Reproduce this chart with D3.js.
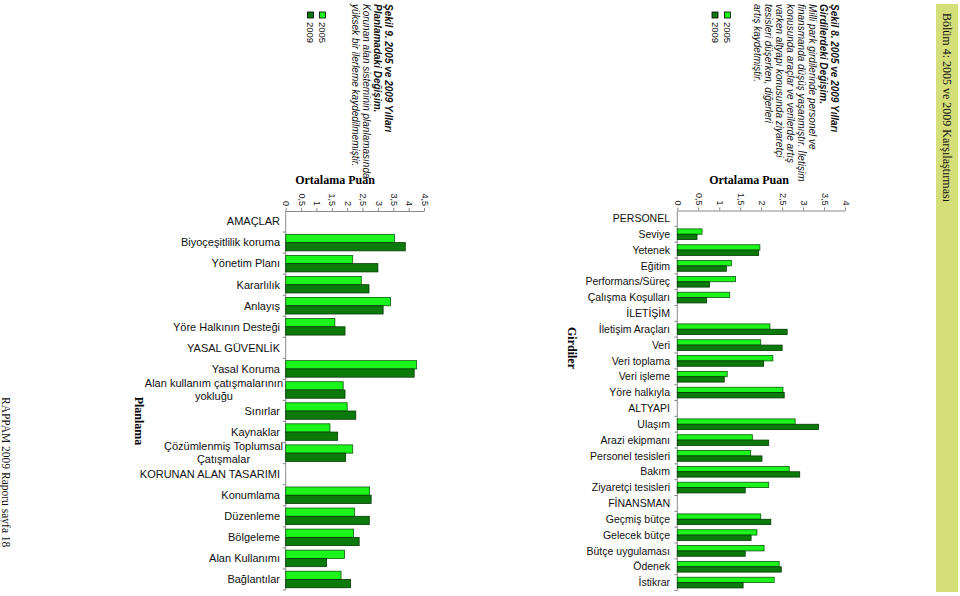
<!DOCTYPE html>
<html><head><meta charset="utf-8">
<script src="https://cdn.jsdelivr.net/npm/d3@7"></script>
<style>body{margin:0;background:#fff}svg{display:block}</style>
</head><body><svg id="c" width="960" height="596"></svg>
<script>
// ---------- DATA ----------
const cats1 = ["PERSONEL","Seviye","Yetenek","Eğitim","Performans/Süreç","Çalışma Koşulları","İLETİŞİM","İletişim Araçları","Veri","Veri toplama","Veri işleme","Yöre halkıyla","ALTYAPI","Ulaşım","Arazi ekipmanı","Personel tesisleri","Bakım","Ziyaretçi tesisleri","FİNANSMAN","Geçmiş bütçe","Gelecek bütçe","Bütçe uygulaması","Ödenek","İstikrar"];
const v2005a = [null,0.59,1.97,1.29,1.39,1.25,null,2.21,1.99,2.28,1.19,2.52,null,2.81,1.79,1.75,2.67,2.18,null,1.99,1.90,2.07,2.43,2.31];
const v2009a = [null,0.47,1.94,1.17,0.77,0.70,null,2.62,2.50,2.06,1.12,2.55,null,3.37,2.18,2.02,2.92,1.62,null,2.23,1.76,1.62,2.48,1.57];
const ticks1 = [0,0.5,1,1.5,2,2.5,3,3.5,4];

const cats2 = ["AMAÇLAR","Biyoçeşitlilik koruma","Yönetim Planı","Kararlılık","Anlayış","Yöre Halkının Desteği","YASAL GÜVENLİK","Yasal Koruma","Alan kullanım çatışmalarının|yokluğu","Sınırlar","Kaynaklar","Çözümlenmiş Toplumsal|Çatışmalar","KORUNAN ALAN TASARIMI","Konumlama","Düzenleme","Bölgeleme","Alan Kullanımı","Bağlantılar"];
const v2005b = [null,3.54,2.18,2.46,3.41,1.60,null,4.26,1.87,2.00,1.44,2.18,null,2.73,2.24,2.21,1.91,1.80];
const v2009b = [null,3.89,3.00,2.71,3.17,1.93,null,4.18,1.93,2.28,1.69,1.95,null,2.78,2.72,2.39,1.33,2.11];
const ticks2 = [0,0.5,1,1.5,2,2.5,3,3.5,4,4.5];

const seriesNames = ["2005","2009"];
const text1 = ["Şekil 8. 2005 ve 2009 Yılları","Girdilerdeki Değişim.","Milli park girdilerinde personel ve","finansmanda düşüş yaşanmıştır. İletişim","konusunda araçlar ve verilerde artış","varken altyapı konusunda ziyaretçi","tesisleri düşerken, diğerleri","artış kaydetmiştir."];
const text2 = ["Şekil 9. 2005 ve 2009 Yılları","Planlamadaki Değişim.","Korunan alan sisteminin planlamasında","yüksek bir ilerleme kaydedilmemiştir."];
const axisTitle = "Ortalama Puan";
const groupTitle1 = "Girdiler";
const groupTitle2 = "Planlama";
const headerText = "Bölüm 4: 2005 ve 2009 Karşılaştırması";
const footerText = "RAPPAM 2009 Raporu sayfa 18";

// ---------- STYLE ----------
const fill = {"2005":"#1cf51c","2009":"#0b7a0b"};
const stroke = {"2005":"#0a5a0a","2009":"#033a03"};
const sans = "'Liberation Sans', Arial, sans-serif";
const serif = "'Liberation Serif', 'Times New Roman', serif";
const svg = d3.select("#c");
const fmt = d => String(d).replace(".", ",");

function drawChart(o) {
  const g = svg.append("g");
  const x = d3.scaleLinear().domain(o.domain).range(o.xr);
  const y = d3.scaleBand().domain(o.cats).range(o.yr).padding(0);
  const y1 = d3.scaleBand().domain(seriesNames).range([0, y.bandwidth()]).paddingInner(0).paddingOuter(o.po);

  // top value axis
  const ax = g.append("g").attr("transform", `translate(0,${o.yr[0]})`)
    .call(d3.axisTop(x).tickValues(o.ticks).tickSize(3).tickSizeOuter(0).tickFormat(fmt));
  ax.select(".domain").attr("stroke", "#8a8a8a");
  ax.selectAll(".tick line").attr("stroke", "#8a8a8a");
  ax.selectAll(".tick text")
    .attr("x", 0).attr("y", 0).attr("dy", "0.32em")
    .attr("text-anchor", "end")
    .attr("transform", "translate(0,-5) rotate(90)")
    .attr("font-family", sans).attr("font-size", 9).attr("fill", "#222");

  // category axis (left)
  const bounds = o.cats.map((c, i) => y(c)).concat([o.yr[1]]);
  g.append("line").attr("x1", o.xr[0]).attr("x2", o.xr[0]).attr("y1", o.yr[0]).attr("y2", o.yr[1])
    .attr("stroke", "#8a8a8a");
  g.selectAll(".ctick").data(bounds.slice(1)).join("line")
    .attr("x1", o.xr[0] - 3).attr("x2", o.xr[0]).attr("y1", d => d).attr("y2", d => d)
    .attr("stroke", "#8a8a8a");

  // bars
  const rows = [];
  o.cats.forEach((c, i) => {
    if (o.a[i] != null) rows.push({c, s: "2005", v: o.a[i]});
    if (o.b[i] != null) rows.push({c, s: "2009", v: o.b[i]});
  });
  g.selectAll(".bar").data(rows).join("rect")
    .attr("x", x(0)).attr("y", d => y(d.c) + y1(d.s))
    .attr("width", d => x(d.v) - x(0)).attr("height", y1.bandwidth())
    .attr("fill", d => fill[d.s]).attr("stroke", d => stroke[d.s]).attr("stroke-width", 0.8);

  // category labels
  o.cats.forEach(c => {
    const lines = c.split("|");
    const cy = y(c) + y.bandwidth() / 2;
    if (lines.length === 1) {
      g.append("text").attr("x", o.labelX).attr("y", cy).attr("dy", "0.35em")
        .attr("text-anchor", "end").attr("font-family", sans).attr("font-size", o.fs)
        .attr("fill", "#111").text(c);
    } else {
      const t = g.append("text").attr("font-family", sans).attr("font-size", o.fs).attr("fill", "#111");
      const lh = 13;
      const spans = lines.map((l, k) => t.append("tspan").attr("y", cy + (k - (lines.length - 1) / 2) * lh).attr("dy", "0.35em").text(l));
      const widths = spans.map(s => s.node().getComputedTextLength());
      const mw = d3.max(widths);
      const cx = o.labelX + 3 - mw / 2;
      spans.forEach(s => s.attr("x", cx).attr("text-anchor", "middle"));
    }
  });

  // axis title
  svg.append("text").attr("x", o.titleX).attr("y", 184).attr("text-anchor", "middle")
    .attr("font-family", serif).attr("font-weight", "bold").attr("font-size", 12).text(axisTitle);

  // group title rotated
  svg.append("text").attr("transform", `translate(${o.gtX},${o.gtY}) rotate(90)`)
    .attr("text-anchor", "middle").attr("font-family", serif).attr("font-weight", "bold")
    .attr("font-size", 12).text(o.gt);

  // caption block rotated
  const cap = svg.append("g").attr("transform", `translate(${o.capX},4) rotate(90)`);
  o.text.forEach((t, i) => {
    cap.append("text").attr("x", 0).attr("y", o.capB + i * 11)
      .attr("font-family", sans).attr("font-style", "italic")
      .attr("font-weight", i < 2 ? "bold" : "normal")
      .attr("font-size", 10).attr("fill", "#111").text(t);
  });
  // legend
  seriesNames.forEach((s, i) => {
    const v = o.legV[i];
    cap.append("rect").attr("x", 8).attr("y", -v - 3).attr("width", 6).attr("height", 6)
      .attr("fill", fill[s]).attr("stroke", "#000").attr("stroke-width", 0.8);
    cap.append("text").attr("x", 18).attr("y", -v).attr("dy", "0.35em")
      .attr("font-family", sans).attr("font-size", 9.5).attr("fill", "#111").text(s);
  });
}

drawChart({cats: cats1, a: v2005a, b: v2009a, ticks: ticks1, domain: [0,4], xr: [677.3, 845],
  yr: [210.5, 590.5], po: 0.48, labelX: 670, fs: 10.5, titleX: 749, gt: groupTitle1, gtX: 568, gtY: 348,
  text: text1, capX: 840, capB: 9.5, legV: [-112.5, -125]});
drawChart({cats: cats2, a: v2005b, b: v2009b, ticks: ticks2, domain: [0,4.5], xr: [285.7, 424],
  yr: [211, 590], po: 0.275, labelX: 280, fs: 11, titleX: 335, gt: groupTitle2, gtX: 135, gtY: 421,
  text: text2, capX: 392, capB: 7.5, legV: [-69.5, -81.5]});

// header strip
svg.append("rect").attr("x", 936).attr("y", 4).attr("width", 22).attr("height", 588).attr("fill", "#d4df7a");
svg.append("text").attr("transform", "translate(943,13) rotate(90)")
  .attr("font-family", serif).attr("font-size", 12).attr("fill", "#111").text(headerText);
// footer
svg.append("text").attr("transform", "translate(2,397) rotate(90)")
  .attr("font-family", serif).attr("font-size", 11.5).attr("fill", "#111").text(footerText);
</script></body></html>
